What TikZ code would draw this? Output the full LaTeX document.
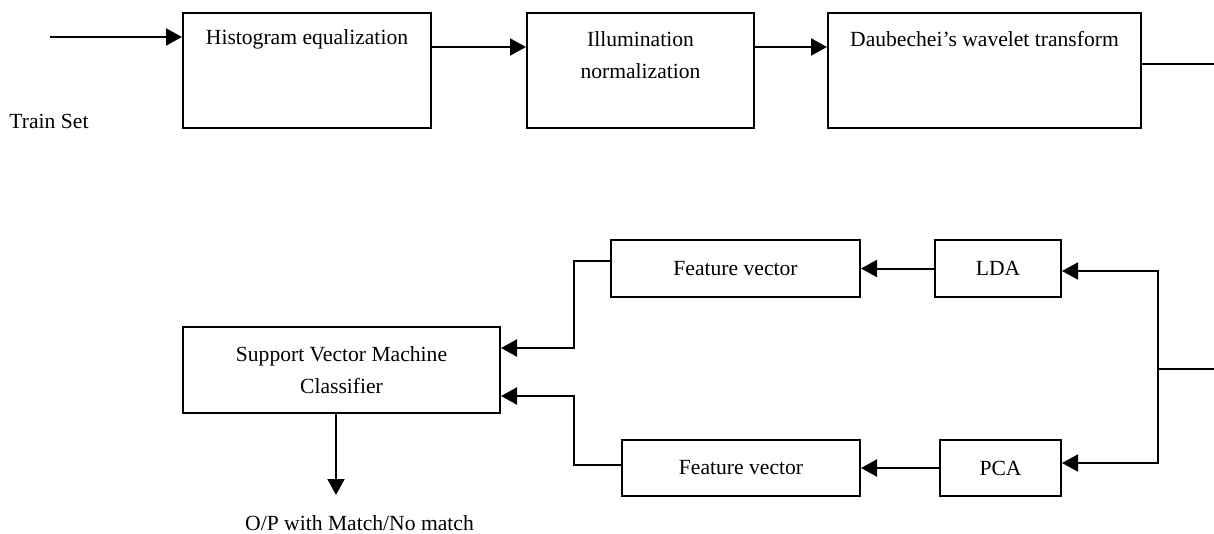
\documentclass[tikz,border=0pt]{standalone}
\usepackage{fontspec}
\setmainfont{Liberation Serif}
\usepackage{tikz}
\usetikzlibrary{arrows.meta, positioning}
\tikzset{
  wire/.style={line width=1pt, draw=black},
  arr/.style={wire, -{Triangle[length=8pt, width=8.5pt]}},
  stage/.style={draw=black, line width=1pt, inner sep=0pt, minimum height=57.5pt},
  stagetext/.style={anchor=center, align=center, inner sep=0pt},
  block/.style={draw=black, line width=1pt, inner sep=0pt, align=center},
  plain/.style={inner sep=0pt, align=center},
}

\begin{document}
\begin{tikzpicture}[x=0.5pt, y=-0.5pt, font=\fontsize{10.8}{16}\selectfont]
\useasboundingbox (0,0) rectangle (1214,534);

%% ─── Pre-processing chain ──────────────────────────────────────────────────
\node[stage, minimum width=124pt,
  label={[stagetext, yshift=-13.5pt]north:Histogram equalization}] (hist) at (307,70.5) {};
\node[stage, minimum width=113.5pt,
  label={[stagetext, yshift=-21.5pt]north:Illumination\\normalization}] (illum) at (640.5,70.5) {};
\node[stage, minimum width=156.5pt,
  label={[stagetext, yshift=-13.5pt]north:Daubechei’s wavelet transform}] (wave) at (984.5,70.5) {};

\coordinate (trainin) at (50,37);
\node[plain] (train) at (49,121) {Train Set};
\coordinate (waveout) at (1214,64);

\draw[arr] (trainin) -- ([yshift=16.75pt]hist.west);
\draw[arr] ([yshift=11.75pt]hist.east) -- ([yshift=11.75pt]illum.west);
\draw[arr] ([yshift=11.75pt]illum.east) -- ([yshift=11.75pt]wave.west);
\draw[wire] ([yshift=3.25pt]wave.east) -- (waveout);

%% ─── Feature extraction branches ───────────────────────────────────────────
\node[block, minimum width=63pt, minimum height=28.5pt] (lda) at (998,268.5) {LDA};
\node[block, minimum width=124.5pt, minimum height=28.5pt] (fvlda) at (735.5,268.5) {Feature vector};
\node[block, minimum width=60.5pt, minimum height=28pt] (pca) at (1000.5,468) {PCA};
\node[block, minimum width=119pt, minimum height=28pt] (fvpca) at (741,468) {Feature vector};

\coordinate (featin) at (1214,369);
\coordinate (split) at (1158,369);
\draw[wire] (featin) -- (split);
\draw[arr] (split) |- ([yshift=-1.25pt]lda.east);
\draw[arr] (split) |- ([yshift=2.5pt]pca.east);
\draw[arr] (lda) -- (fvlda);
\draw[arr] (pca) -- (fvpca);

%% ─── Classifier and output ─────────────────────────────────────────────────
\node[block, minimum width=158.5pt, minimum height=43pt] (svm) at (341.5,370)
  {Support Vector Machine\\Classifier};
\coordinate (merge) at (574,370);
\draw[arr] ([yshift=3.75pt]fvlda.west) -| ([yshift=11pt]merge) -- ([yshift=11pt]svm.east);
\draw[arr] ([yshift=1.5pt]fvpca.west) -| ([yshift=-13pt]merge) -- ([yshift=-13pt]svm.east);

\coordinate (outtip) at (336,495);
\draw[arr] ([xshift=-2.75pt]svm.south) -- (outtip);
\node[plain] (result) at (359.5,523) {O/P with Match/No match};

\end{tikzpicture}
\end{document}
